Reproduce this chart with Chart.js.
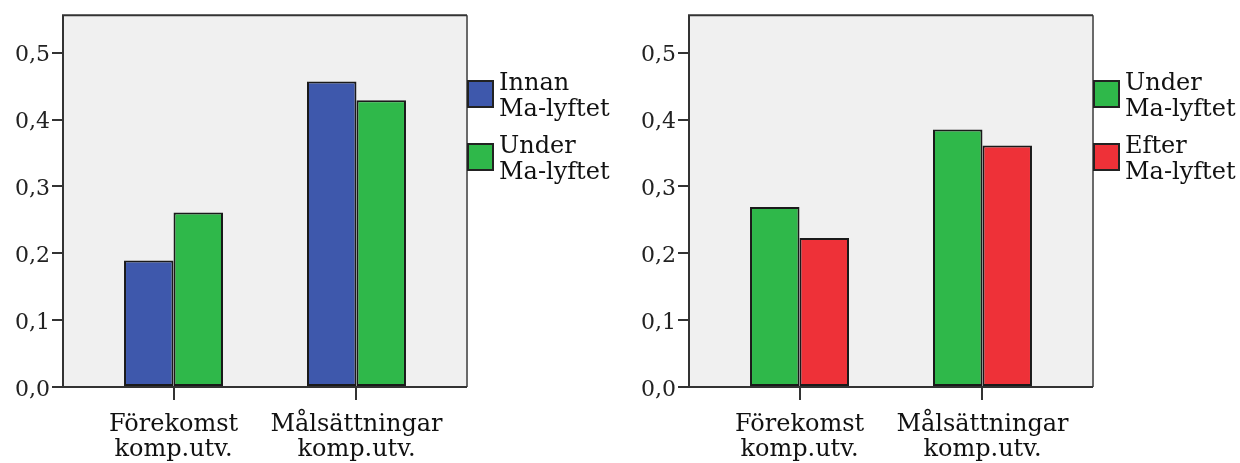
<!DOCTYPE html>
<html>
<head>
<meta charset="utf-8">
<script src="https://cdn.jsdelivr.net/npm/chart.js@4/dist/chart.umd.min.js"></script>
<style>
  html, body { margin: 0; padding: 0; background: #ffffff; }
  #wrap { position: relative; width: 1240px; height: 463px; }
  .panel { position: absolute; top: 0; width: 620px; height: 463px; }
</style>
</head>
<body>
<div id="wrap">
  <div class="panel" style="left:0px"><canvas id="c1" width="620" height="463"></canvas></div>
  <div class="panel" style="left:620px"><canvas id="c2" width="620" height="463"></canvas></div>
</div>
<script>
// ---- data ----
const categories = [["Förekomst", "komp.utv."], ["Målsättningar", "komp.utv."]];
const yTicks = [0, 0.1, 0.2, 0.3, 0.4, 0.5];

const leftSeriesNames = ["Innan Ma-lyftet", "Under Ma-lyftet"];
const leftInnan = [0.189, 0.457];
const leftUnder = [0.261, 0.429];

const rightSeriesNames = ["Under Ma-lyftet", "Efter Ma-lyftet"];
const rightUnder = [0.269, 0.385];
const rightEfter = [0.223, 0.361];

const BLUE = "#3E58AC", GREEN = "#2FB84A", RED = "#EE3138";
const FONT = "'DejaVu Serif', serif";

function toPoints(arr) { return arr.map((v, i) => ({ x: i + 1, y: v })); }

const framePlugin = {
  id: "frame",
  beforeDatasetsDraw(chart) {
    const a = chart.chartArea, ctx = chart.ctx;
    ctx.save();
    ctx.fillStyle = "#F0F0F0";
    ctx.fillRect(a.left, a.top, a.right - a.left, a.bottom - a.top);
    ctx.restore();
  },
  afterDatasetsDraw(chart) {
    const a = chart.chartArea, ctx = chart.ctx;
    ctx.save();
    ctx.lineWidth = 2;
    ctx.strokeStyle = "#6a6a6a";
    ctx.beginPath(); ctx.moveTo(a.right, a.top); ctx.lineTo(a.right, a.bottom); ctx.stroke();
    ctx.strokeStyle = "#333333";
    ctx.beginPath();
    ctx.moveTo(a.right, a.top); ctx.lineTo(a.left, a.top); ctx.lineTo(a.left, a.bottom); ctx.lineTo(a.right, a.bottom);
    ctx.stroke();
    ctx.restore();
  },
  afterDraw(chart) {
    const a = chart.chartArea, ctx = chart.ctx;
    const o = chart.options.plugins.frame;
    ctx.save();
    ctx.font = "24px " + FONT;
    ctx.textBaseline = "alphabetic";
    ctx.textAlign = "left";
    chart.data.datasets.forEach((ds, i) => {
      const top = 81 + 63 * i;
      ctx.fillStyle = ds.backgroundColor;
      ctx.fillRect(a.right, top, 26, 26);
      ctx.lineWidth = 2;
      ctx.strokeStyle = "#222";
      ctx.strokeRect(a.right + 1, top, 25, 26);
      ctx.fillStyle = "#111";
      const parts = ds.label.split(" ");
      parts.forEach((p, j) => ctx.fillText(p, a.right + o.textGap, top + 9 + 26 * j));
    });
    ctx.restore();
  }
};

function makeChart(id, names, s1, s2, c1, c2, leftW, rightPad, textGap) {
  return new Chart(document.getElementById(id), {
    type: "bar",
    data: {
      datasets: [
        { label: names[0], data: toPoints(s1), backgroundColor: c1, borderColor: "#1a1a1a", borderWidth: 2, borderSkipped: false },
        { label: names[1], data: toPoints(s2), backgroundColor: c2, borderColor: "#1a1a1a", borderWidth: 2, borderSkipped: false }
      ]
    },
    options: {
      responsive: false,
      animation: false,
      events: [],
      layout: { padding: { left: 0, top: 15, right: rightPad, bottom: 0 } },
      datasets: { bar: { categoryPercentage: 0.541, barPercentage: 1.0 } },
      plugins: { legend: { display: false }, tooltip: { enabled: false }, frame: { textGap: textGap } },
      scales: {
        x: {
          type: "linear",
          offset: false,
          min: 0.396, max: 2.604,
          afterBuildTicks(scale) { scale.ticks = categories.map((c, i) => ({ value: i + 1 })); },
          afterFit(scale) { scale.height = 76; },
          grid: { offset: false, drawOnChartArea: false, drawTicks: true, tickLength: 13, tickColor: "#333", lineWidth: 2 },
          border: { display: false },
          ticks: {
            autoSkip: false, maxRotation: 0, padding: 12,
            color: "#111",
            font: { family: FONT, size: 24, lineHeight: 1.05 },
            callback(v) { return categories[Math.round(v) - 1]; }
          }
        },
        y: {
          min: 0, max: 0.556,
          afterBuildTicks(scale) { scale.ticks = yTicks.map(v => ({ value: v })); },
          afterFit(scale) { scale.width = leftW; },
          grid: { drawOnChartArea: false, drawTicks: true, tickLength: 11, tickColor: "#333", lineWidth: 2 },
          border: { display: false },
          ticks: {
            padding: 2, color: "#222", labelOffset: 3,
            font: { family: FONT, size: 22 },
            callback(v) { return v.toFixed(1).replace(".", ","); }
          }
        }
      }
    },
    plugins: [framePlugin]
  });
}

makeChart("c1", leftSeriesNames, leftInnan, leftUnder, BLUE, GREEN, 63, 153, 32);
makeChart("c2", rightSeriesNames, rightUnder, rightEfter, GREEN, RED, 69, 147, 32);
</script>
</body>
</html>
